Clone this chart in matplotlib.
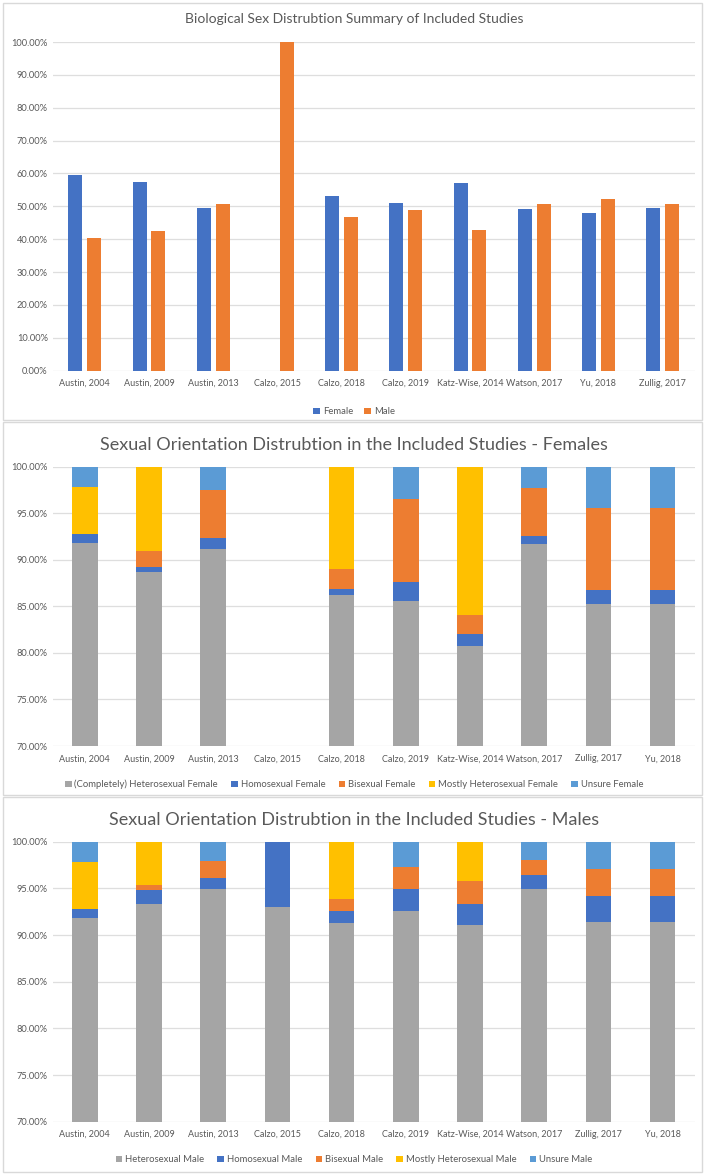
import numpy as np
import matplotlib.pyplot as plt
from matplotlib.patches import Rectangle
from matplotlib.ticker import FuncFormatter, MultipleLocator

plt.rcParams["font.family"] = ["Lato", "DejaVu Sans"]

# panel 1 data
sex_studies = ["Austin, 2004", "Austin, 2009", "Austin, 2013", "Calzo, 2015", "Calzo, 2018",
               "Calzo, 2019", "Katz-Wise, 2014", "Watson, 2017", "Yu, 2018", "Zullig, 2017"]
female_pct = [59.6, 57.5, 49.4, 0.0, 53.1, 51.0, 57.1, 49.2, 47.9, 49.4]
male_pct = [40.4, 42.5, 50.6, 100.0, 46.9, 49.0, 42.9, 50.8, 52.1, 50.6]

# panels 2 and 3 data
orient_studies = ["Austin, 2004", "Austin, 2009", "Austin, 2013", "Calzo, 2015", "Calzo, 2018",
                  "Calzo, 2019", "Katz-Wise, 2014", "Watson, 2017", "Zullig, 2017", "Yu, 2018"]

het_f = [91.8, 88.7, 91.2, 0.0, 86.2, 85.6, 80.7, 91.7, 85.3, 85.3]
homo_f = [1.0, 0.5, 1.1, 0.0, 0.7, 2.0, 1.3, 0.9, 1.5, 1.5]
bi_f = [0.0, 1.7, 5.2, 0.0, 2.1, 8.9, 2.1, 5.1, 8.8, 8.8]
mostly_f = [5.0, 9.1, 0.0, 0.0, 11.0, 0.0, 15.9, 0.0, 0.0, 0.0]
unsure_f = [2.2, 0.0, 2.5, 0.0, 0.0, 3.5, 0.0, 2.3, 4.4, 4.4]

het_m = [91.8, 93.3, 94.9, 93.0, 91.3, 92.6, 91.1, 94.9, 91.4, 91.4]
homo_m = [1.0, 1.5, 1.2, 7.0, 1.3, 2.3, 2.2, 1.5, 2.8, 2.8]
bi_m = [0.0, 0.6, 1.8, 0.0, 1.3, 2.4, 2.5, 1.6, 2.9, 2.9]
mostly_m = [5.0, 4.6, 0.0, 0.0, 6.1, 0.0, 4.2, 0.0, 0.0, 0.0]
unsure_m = [2.2, 0.0, 2.1, 0.0, 0.0, 2.7, 0.0, 2.0, 2.9, 2.9]

female_labels = ["(Completely) Heterosexual Female", "Homosexual Female", "Bisexual Female",
                 "Mostly Heterosexual Female", "Unsure Female"]
male_labels = ["Heterosexual Male", "Homosexual Male", "Bisexual Male",
               "Mostly Heterosexual Male", "Unsure Male"]

BLUE = "#4472C4"
ORANGE = "#ED7D31"
GRAY = "#A5A5A5"
GOLD = "#FFC000"
LBLUE = "#5B9BD5"
TXT = "#595959"
GRID = "#D9D9D9"
seg_colors = [GRAY, BLUE, ORANGE, GOLD, LBLUE]

W, H = 709, 1174
fig = plt.figure(figsize=(W / 100, H / 100), dpi=100)

# panel frames
for top, bot in [(3, 420), (422, 795), (797, 1172)]:
    fig.add_artist(Rectangle((3 / W, 1 - bot / H), 699 / W, (bot - top) / H,
                             transform=fig.transFigure, fill=False,
                             edgecolor=GRID, linewidth=1.0))

pct_fmt = FuncFormatter(lambda v, p: "{:.2f}%".format(v))
AX_L, AX_W = 52.7, 642
CX = (354 - AX_L) / AX_W  # chart-area centre in axes coords


def style_axes(ax, labels):
    for s in ax.spines.values():
        s.set_visible(False)
    ax.yaxis.grid(True, color="#DEDEDE", linewidth=0.9)
    ax.set_axisbelow(True)
    ax.tick_params(length=0, colors=TXT, labelsize=6.7)
    ax.tick_params(axis="x", pad=6, labelsize=6.5)
    ax.set_xticks(np.arange(len(labels)))
    ax.set_xticklabels(labels)
    ax.set_xlim(-0.5, len(labels) - 0.5)
    ax.yaxis.set_major_formatter(pct_fmt)


# ---- panel 1 ----
ax1 = fig.add_axes([AX_L / W, 1 - 370.7 / H, AX_W / W, 328.7 / H])
x = np.arange(len(sex_studies))
ax1.bar(x - 0.147, female_pct, width=0.22, color=BLUE, label="Female")
ax1.bar(x + 0.147, male_pct, width=0.22, color=ORANGE, label="Male")
ax1.set_ylim(0, 100)
ax1.yaxis.set_major_locator(MultipleLocator(10))
style_axes(ax1, sex_studies)
ax1.set_title("Biological Sex Distrubtion Summary of Included Studies",
              color=TXT, fontsize=10, pad=14, x=CX)
ax1.legend(loc="upper center", bbox_to_anchor=(CX, -0.085), ncol=2, frameon=False,
           fontsize=6.8, handlelength=0.7, handleheight=0.7, handletextpad=0.3,
           columnspacing=1.2, labelcolor=TXT)


def stacked(ax, series, labels, title):
    x = np.arange(len(orient_studies))
    bottom = np.zeros(len(orient_studies))
    for vals, col, lab in zip(series, seg_colors, labels):
        ax.bar(x, vals, bottom=bottom, width=0.4, color=col, label=lab)
        bottom = bottom + np.array(vals)
    ax.set_ylim(70, 100)
    ax.yaxis.set_major_locator(MultipleLocator(5))
    style_axes(ax, orient_studies)
    ax.set_title(title, color=TXT, fontsize=13, pad=12, x=CX)
    ax.legend(loc="upper center", bbox_to_anchor=(CX, -0.09), ncol=5, frameon=False,
              fontsize=6.8, handlelength=0.7, handleheight=0.7, handletextpad=0.3,
              columnspacing=1.4, labelcolor=TXT)


# ---- panel 2 ----
ax2 = fig.add_axes([AX_L / W, 1 - 746 / H, AX_W / W, 279.3 / H])
stacked(ax2, [het_f, homo_f, bi_f, mostly_f, unsure_f], female_labels,
        "Sexual Orientation Distrubtion in the Included Studies - Females")

# ---- panel 3 ----
ax3 = fig.add_axes([AX_L / W, 1 - 1121.7 / H, AX_W / W, 280 / H])
stacked(ax3, [het_m, homo_m, bi_m, mostly_m, unsure_m], male_labels,
        "Sexual Orientation Distrubtion in the Included Studies - Males")

plt.savefig("out.png", dpi=100)
